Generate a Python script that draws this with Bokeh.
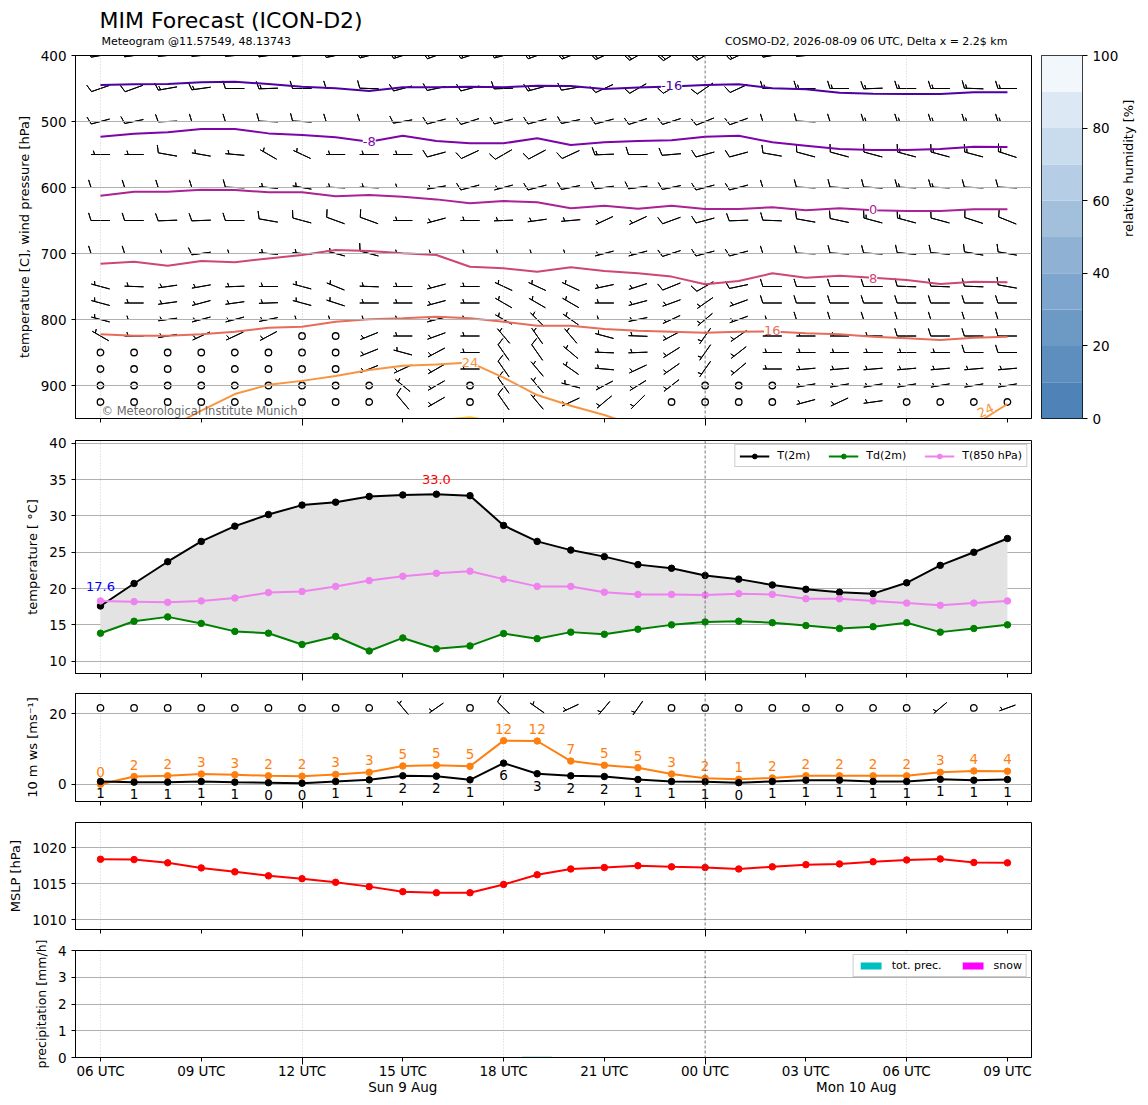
import math
from bokeh.plotting import figure
from bokeh.models import Range1d, FixedTicker, Span, Label, Legend, LegendItem, LinearAxis
from bokeh.layouts import column, row
from bokeh.embed import file_html
from bokeh.resources import INLINE
from bokeh.core.properties import value

FONT = "DejaVu Sans"
nan = float("nan")

# ------------------------------------------------------------------ data
hours = list(range(28))                      # 06 UTC 9 Aug ... 09 UTC 10 Aug
tick_hours = [0, 3, 6, 9, 12, 15, 18, 21, 24, 27]
tick_labels = ["06 UTC", "09 UTC", "12 UTC", "15 UTC", "18 UTC", "21 UTC",
               "00 UTC", "03 UTC", "06 UTC", "09 UTC"]
long_tick_hours = [6, 18]                    # 12 UTC and 00 UTC
vgrid_hours = [0, 6, 12, 24]
midnight_hour = 18
day_labels = ["Sun 9 Aug", "Mon 10 Aug"]
day_label_hours = [9, 22.5]

title_text = "MIM Forecast (ICON-D2)"
subtitle_left = "Meteogram @11.57549, 48.13743"
subtitle_right = "COSMO-D2, 2026-08-09 06 UTC, Delta x = 2.2$ km"
copyright_text = "\u00a9 Meteorological Institute Munich"

# upper-air wind (direction deg, speed in barb units) per pressure level
levels = [400, 450, 500, 550, 600, 650, 700, 750, 775, 800, 825, 850, 875, 900, 925]
wdir = {
    400: [260, 262, 265, 265, 265, 262, 262, 258, 255, 252, 250, 252, 255, 250, 248, 245, 240, 238, 240, 245, 260, 265, 270, 270, 270, 270, 270, 270],
    450: [251, 250, 260, 262, 270, 268, 270, 270, 272, 255, 258, 255, 268, 255, 260, 245, 240, 240, 235, 245, 270, 270, 270, 268, 270, 270, 272, 270],
    500: [255, 258, 268, 270, 270, 272, 273, 270, 270, 260, 255, 252, 255, 255, 258, 255, 252, 252, 248, 250, 270, 272, 270, 270, 270, 270, 270, 270],
    550: [270, 270, 280, 280, 275, 300, 295, 270, 270, 270, 255, 245, 240, 242, 245, 268, 270, 265, 255, 255, 280, 285, 285, 285, 285, 285, 285, 288],
    600: [270, 270, 270, 270, 272, 275, 280, 272, 272, 270, 260, 255, 255, 255, 258, 262, 262, 258, 255, 255, 270, 272, 273, 273, 272, 272, 272, 272],
    650: [270, 270, 268, 268, 270, 280, 285, 290, 290, 270, 255, 270, 268, 262, 265, 245, 245, 250, 255, 268, 272, 280, 282, 285, 285, 285, 288, 292],
    700: [270, 270, 270, 262, 270, 275, 275, 285, 285, 270, 270, 270, 270, 270, 270, 255, 255, 252, 255, 255, 270, 272, 273, 273, 275, 275, 280, 280],
    750: [285, 272, 262, 260, 268, 270, 285, 292, 272, 270, 255, 270, 295, 295, 295, 258, 252, 248, 240, 258, 270, 270, 270, 270, 272, 272, 272, 280],
    775: [285, 270, 262, 255, 262, 268, 285, 288, 270, 270, 255, 270, 300, 300, 300, 270, 255, 250, 235, 250, 270, 270, 270, 270, 270, 270, 270, 270],
    800: [285, 270, 262, 255, 255, 258, 270, 270, 270, 270, 255, 270, 300, 315, 305, 270, 258, 245, 230, 250, 270, 270, 270, 270, 270, 270, 270, 270],
    825: [300, 270, 260, 245, 245, 242, 0, 0, 248, 270, 250, 270, 320, 325, 320, 285, 272, 242, 215, 235, 270, 270, 270, 270, 270, 270, 270, 270],
    850: [0, 0, 0, 0, 0, 0, 0, 0, 248, 285, 242, 270, 325, 325, 310, 272, 268, 238, 215, 232, 270, 270, 270, 270, 270, 270, 270, 270],
    875: [0, 0, 0, 0, 0, 0, 0, 0, 248, 245, 240, 270, 325, 320, 305, 275, 245, 235, 215, 230, 270, 265, 265, 265, 265, 265, 265, 265],
    900: [0, 0, 0, 0, 0, 0, 0, 0, 0, 310, 240, 0, 325, 320, 285, 242, 238, 232, 0, 0, 0, 260, 260, 260, 260, 260, 260, 260],
    925: [0, 0, 0, 0, 0, 0, 0, 0, 0, 320, 240, 0, 325, 320, 245, 230, 225, 0, 0, 0, 0, 255, 245, 262, 0, 0, 0, 0],
}
wspd = {
    400: [15, 15, 15, 15, 15, 15, 15, 15, 15, 15, 15, 15, 15, 20, 20, 20, 20, 20, 20, 20, 15, 15, 15, 15, 15, 15, 15, 15],
    450: [10, 10, 15, 15, 10, 15, 10, 10, 10, 10, 10, 10, 10, 15, 10, 10, 10, 10, 10, 10, 15, 15, 15, 15, 15, 15, 15, 15],
    500: [10, 10, 10, 10, 10, 10, 10, 10, 10, 10, 10, 10, 10, 10, 10, 10, 10, 10, 10, 10, 10, 10, 10, 15, 15, 15, 15, 15],
    550: [5, 5, 10, 5, 5, 5, 5, 5, 5, 5, 10, 10, 10, 10, 10, 15, 10, 10, 10, 10, 10, 10, 10, 10, 15, 15, 15, 15],
    600: [10, 10, 10, 10, 10, 5, 5, 5, 5, 5, 5, 10, 5, 10, 10, 10, 10, 10, 10, 10, 10, 10, 10, 10, 15, 15, 10, 10],
    650: [10, 10, 10, 10, 10, 10, 10, 10, 10, 5, 5, 5, 5, 5, 5, 5, 5, 10, 10, 10, 10, 10, 10, 15, 15, 10, 10, 10],
    700: [10, 10, 5, 10, 5, 5, 5, 5, 10, 5, 5, 5, 5, 5, 5, 5, 5, 10, 10, 10, 10, 10, 10, 10, 10, 10, 10, 10],
    750: [5, 5, 5, 5, 5, 5, 5, 5, 5, 5, 5, 5, 5, 5, 5, 5, 5, 10, 10, 10, 10, 10, 10, 10, 10, 10, 10, 10],
    775: [5, 5, 5, 5, 5, 5, 5, 5, 5, 5, 5, 5, 5, 5, 5, 5, 5, 5, 5, 5, 10, 10, 10, 10, 10, 10, 10, 10],
    800: [5, 5, 5, 5, 5, 5, 5, 5, 5, 5, 5, 5, 5, 5, 5, 5, 5, 5, 5, 5, 5, 10, 10, 10, 10, 10, 10, 10],
    825: [5, 5, 5, 5, 5, 5, 0, 0, 5, 5, 5, 5, 5, 5, 5, 5, 5, 5, 5, 5, 5, 5, 5, 5, 10, 10, 10, 10],
    850: [0, 0, 0, 0, 0, 0, 0, 0, 5, 5, 5, 5, 10, 10, 5, 5, 5, 5, 5, 5, 5, 5, 5, 5, 5, 5, 10, 10],
    875: [0, 0, 0, 0, 0, 0, 0, 0, 5, 5, 5, 5, 10, 5, 5, 5, 5, 5, 5, 5, 5, 5, 5, 5, 5, 5, 5, 5],
    900: [0, 0, 0, 0, 0, 0, 0, 0, 0, 5, 5, 0, 10, 5, 5, 5, 5, 5, 0, 0, 0, 5, 5, 5, 5, 5, 5, 5],
    925: [0, 0, 0, 0, 0, 0, 0, 0, 0, 10, 5, 0, 10, 5, 5, 5, 5, 0, 0, 0, 0, 5, 5, 5, 0, 0, 0, 0],
}

# isotherms: pressure [hPa] of each temperature level per hour
iso_colors = ["#4c02a1", "#7e03a8", "#a92395", "#cc4778", "#e66c5c", "#f89540", "#fdc527"]
iso_m16 = [444.7, 443.7, 443.2, 440.7, 439.7, 443.2, 447.2, 449.7, 453.8, 448, 448, 447.5, 448, 445.7, 446.2, 450.7, 448.5, 447, 444.7, 443.7, 449.7, 451.2, 456.3, 457.8, 458.3, 458.3, 455.8, 455.8]
iso_m8 = [523, 518.5, 516.4, 511.4, 511.4, 518, 520.5, 524, 530.6, 521.5, 529.5, 533, 533, 525.5, 535.6, 531.5, 529.5, 528.5, 523, 521.5, 531.5, 536.6, 541.7, 543.2, 543.2, 541.7, 538.2, 538.6]
iso_0 = [612.4, 606.4, 606.4, 603.3, 603.8, 607.3, 607.3, 613.4, 611.4, 614, 618, 624, 620.5, 622.5, 631.6, 627.6, 632.1, 627.6, 632.6, 632.6, 630, 634.5, 631.6, 634.5, 635.6, 635.6, 633, 633]
iso_8 = [715.4, 712.4, 718.4, 711.4, 713.4, 707.4, 702.3, 694.7, 696.2, 699.7, 702.3, 720, 722.4, 727.5, 721, 726.5, 730, 735, 746.7, 741.7, 730, 736.6, 733.6, 736.6, 740.2, 746.2, 742.7, 743.7]
iso_16 = [822.5, 824.5, 824.5, 822.5, 818.5, 812.4, 811, 803.4, 799.7, 798.2, 795.7, 798.2, 803.4, 809.4, 809.4, 814.4, 817, 818.5, 820, 818.5, 818, 821, 822.5, 826, 828.5, 831, 827.6, 826]
iso_24 = [nan, nan, 965, 938, 913, 899, 893, 885.6, 876.5, 870, 868, 865, 888, 914.5, 930.6, 944.7, 962, nan, nan, nan, nan, nan, nan, nan, nan, nan, 960, 928]
iso_32 = [nan, nan, nan, nan, nan, nan, nan, nan, nan, nan, 953, 948, 957, nan, nan, nan, nan, nan, nan, nan, nan, nan, nan, nan, nan, nan, nan, nan]
iso_label_x = [17, 8, 23, 23, 20, 11, 26.35]
iso_label_p = [446, 530, 634, 738.5, 816.5, 864.5, 938]
iso_label_text = ["-16", "-8", "0", "8", "16", "24", "24"]
iso_label_color = ["#4c02a1", "#7e03a8", "#a92395", "#cc4778", "#e66c5c", "#f89540", "#f89540"]
iso_label_angle = [0, 0, 0, 0, 0, 0, 0.45]

# relative humidity colour bar
rh_levels = [0, 10, 20, 30, 40, 50, 60, 70, 80, 90, 100]
rh_colors = ["#4f83b8", "#5e8ebe", "#6d99c5", "#7ea5cd", "#8fb2d4", "#a2c0dc", "#b5cee5", "#c9dcee", "#dde8f5", "#f2f7fc"]
rh_ticks = [0, 20, 40, 60, 80, 100]

# surface temperatures
t2m = [17.6, 20.7, 23.7, 26.5, 28.6, 30.2, 31.5, 31.9, 32.7, 32.9, 33.0, 32.8, 28.7, 26.5, 25.3, 24.4, 23.3, 22.8, 21.8, 21.3, 20.5, 19.9, 19.5, 19.3, 20.8, 23.2, 25.0, 26.9]
td2m = [13.85, 15.5, 16.1, 15.2, 14.1, 13.85, 12.3, 13.4, 11.4, 13.2, 11.7, 12.1, 13.8, 13.1, 14.0, 13.7, 14.4, 15.0, 15.4, 15.5, 15.3, 14.9, 14.5, 14.75, 15.3, 14.0, 14.5, 15.0]
t850 = [18.3, 18.2, 18.1, 18.3, 18.7, 19.45, 19.6, 20.3, 21.1, 21.7, 22.1, 22.4, 21.3, 20.3, 20.3, 19.5, 19.2, 19.2, 19.1, 19.3, 19.2, 18.6, 18.6, 18.3, 18.0, 17.7, 18.0, 18.3]

# 10 m wind
ws10 = [0.8, 0.6, 0.6, 0.8, 0.6, 0.45, 0.3, 0.8, 1.25, 2.4, 2.3, 1.25, 6.0, 3.0, 2.4, 2.2, 1.35, 0.8, 0.7, 0.45, 0.8, 1.15, 1.15, 0.8, 0.8, 1.4, 1.15, 1.35]
gust10 = [0.0, 2.2, 2.4, 2.9, 2.7, 2.4, 2.3, 2.8, 3.4, 5.2, 5.4, 5.1, 12.4, 12.3, 6.6, 5.4, 4.7, 2.9, 1.7, 1.4, 1.8, 2.4, 2.4, 2.4, 2.4, 3.4, 3.8, 3.7]
wd10 = [0, 0, 0, 0, 0, 0, 0, 0, 0, 320, 235, 0, 315, 305, 245, 220, 215, 0, 0, 0, 0, 0, 0, 0, 0, 230, 0, 250]
barb10_height = 21.7
MS_TO_KT = 1.944

# mean sea level pressure
mslp = [1018.4, 1018.35, 1017.9, 1017.2, 1016.65, 1016.1, 1015.7, 1015.2, 1014.6, 1013.9, 1013.75, 1013.75, 1014.9, 1016.25, 1017.05, 1017.25, 1017.5, 1017.35, 1017.25, 1017.05, 1017.35, 1017.65, 1017.75, 1018.05, 1018.3, 1018.45, 1017.95, 1017.9]

# precipitation
precip = [0, 0, 0, 0, 0, 0, 0, 0, 0, 0, 0, 0, 0, 0.03, 0, 0, 0, 0, 0, 0, 0, 0, 0, 0, 0, 0, 0, 0]
snow = [0, 0, 0, 0, 0, 0, 0, 0, 0, 0, 0, 0, 0, 0, 0, 0, 0, 0, 0, 0, 0, 0, 0, 0, 0, 0, 0, 0]

# ------------------------------------------------------------------ layout constants
X0, X1 = -0.744, 27.716
FRAME_W = 956
LEFT = 75
x_range = Range1d(X0, X1)
PX_PER_H = FRAME_W / (X1 - X0)
AX_FS = "13px"
TICK_FS = "13.5px"


def barbs(xs, ys, dirs, spds, L, px_y, y_up_positive):
    """matplotlib-like wind barbs (pivot middle) -> polylines in data space"""
    spacing = 0.125 * L
    fh = 0.4 * L
    fw = 0.25 * L
    lx, ly, cx, cy = [], [], [], []
    for x0, y0, d, s in zip(xs, ys, dirs, spds):
        r = 5.0 * round(s / 5.0)
        nfull = int((r % 50) // 10)
        half = (r % 10) >= 5
        if nfull == 0 and not half:
            cx.append(x0)
            cy.append(y0)
            continue
        e = -L / 2.0
        verts = [(0.0, e)]
        off = L
        for _ in range(nfull):
            verts += [(0.0, e + off), (fh, e + off + fw / 2), (0.0, e + off)]
            off -= spacing
        if half:
            if off == L:
                verts.append((0.0, e + off))
                off -= 1.5 * spacing
            verts += [(0.0, e + off), (fh / 2, e + off + fw / 4), (0.0, e + off)]
        verts.append((0.0, e))
        dr = math.radians(d)
        u = -s * math.sin(dr)
        v = -s * math.cos(dr)
        th = math.atan2(v, u) + math.pi / 2
        c, sn = math.cos(th), math.sin(th)
        px, py = [], []
        for a, b in verts:
            X = a * c - b * sn
            Y = a * sn + b * c
            px.append(x0 + X / PX_PER_H)
            py.append(y0 + (Y / px_y if y_up_positive else -Y / px_y))
        lx.append(px)
        ly.append(py)
    return lx, ly, cx, cy


def bare_fig(fh, yr, right=10):
    p = figure(x_range=x_range, y_range=yr, frame_width=FRAME_W, frame_height=fh,
               min_border_left=LEFT, min_border_right=right, min_border_top=0,
               min_border_bottom=0, toolbar_location=None, tools="", output_backend="svg")
    p.axis.visible = False
    p.grid.visible = False
    p.outline_line_color = None
    p.background_fill_color = "white"
    p.border_fill_color = "white"
    return p


def style_axis(ax):
    ax.axis_line_color = "black"
    ax.major_tick_line_color = "black"
    ax.minor_tick_line_color = None
    ax.major_tick_out = 4
    ax.major_tick_in = 0
    ax.major_label_text_font = FONT
    ax.major_label_text_color = "black"
    ax.major_label_text_font_size = TICK_FS
    ax.axis_label_text_font = FONT
    ax.axis_label_text_font_style = "normal"
    ax.axis_label_text_color = "black"
    ax.axis_label_text_font_size = AX_FS
    ax.axis_label_standoff = 6


def make_fig(fh, yr, top, bottom, right=10, xlabels=False):
    p = figure(x_range=x_range, y_range=yr, frame_width=FRAME_W, frame_height=fh,
               min_border_left=LEFT, min_border_right=right, min_border_top=top,
               min_border_bottom=bottom, toolbar_location=None, tools="",
               output_backend="svg")
    p.background_fill_color = "white"
    p.border_fill_color = "white"
    p.outline_line_color = "black"
    p.outline_line_alpha = 1
    p.outline_line_width = 1
    for ax in p.axis:
        style_axis(ax)
    p.xaxis.ticker = FixedTicker(ticks=tick_hours, minor_ticks=long_tick_hours)
    p.xaxis.minor_tick_line_color = "black"
    p.xaxis.minor_tick_out = 7
    p.xaxis.minor_tick_in = 0
    if xlabels:
        p.xaxis.major_label_overrides = {h: t for h, t in zip(tick_hours, tick_labels)}
        p.xaxis.major_label_standoff = -2
    else:
        p.xaxis.major_label_overrides = {h: "" for h in tick_hours}
        p.xaxis.major_label_text_font_size = "0px"
        p.xaxis.major_label_standoff = 0
    p.ygrid.grid_line_color = "#b0b0b0"
    p.ygrid.grid_line_width = 1
    p.xgrid.ticker = FixedTicker(ticks=vgrid_hours)
    p.xgrid.grid_line_color = "#bbbbbb"
    p.xgrid.grid_line_width = 0.7
    p.xgrid.grid_line_dash = "1 2"
    p.add_layout(Span(location=midnight_hour, dimension="height", line_color="#555555",
                      line_width=0.8, line_dash="3 2"))
    return p


# ------------------------------------------------------------------ header
HDR_H = 47
hdr = bare_fig(HDR_H, Range1d(0, HDR_H), right=10)
hdr.text(x=[-0.03], y=[HDR_H - 20], text=[title_text], text_font=value(FONT),
         text_font_size="22px", text_color="black", text_baseline="middle")
hdr.text(x=[0.03], y=[HDR_H - 41], text=[subtitle_left], text_font=value(FONT),
         text_font_size="11px", text_color="black", text_baseline="middle")
hdr.text(x=[27], y=[HDR_H - 41], text=[subtitle_right], text_font=value(FONT),
         text_font_size="11px", text_color="black", text_baseline="middle", text_align="right")

# ------------------------------------------------------------------ panel 1 : upper air
P_TOP, P_BOT = 400, 950
H1 = 363
p1 = make_fig(H1, Range1d(P_BOT, P_TOP), top=8, bottom=10, right=10)
p1.yaxis.ticker = FixedTicker(ticks=[400, 500, 600, 700, 800, 900])
p1.yaxis.axis_label = "temperature [C], wind pressure [hPa]"
p1.ygrid.level = "glyph"
px_per_hpa = H1 / (P_BOT - P_TOP)

bx, by, bd, bs = [], [], [], []
for lev in levels:
    for h in hours:
        bx.append(h)
        by.append(lev)
        bd.append(wdir[lev][h])
        bs.append(wspd[lev][h])
lx, ly, cx, cy = barbs(bx, by, bd, bs, 19.0, px_per_hpa, False)
r = p1.multi_line(lx, ly, line_color="black", line_width=1)
r.level = "underlay"
r = p1.scatter(cx, cy, marker="circle", size=6.5, fill_color=None, line_color="black", line_width=1.3)
r.level = "underlay"

for iso, col in zip([iso_m16, iso_m8, iso_0, iso_8, iso_16, iso_24, iso_32], iso_colors):
    p1.line(hours, iso, line_color=col, line_width=2)

p1.text(x=iso_label_x, y=iso_label_p, text=iso_label_text, text_color=iso_label_color,
        angle=iso_label_angle, text_font=value(FONT), text_font_size="13px",
        text_align="center", text_baseline="middle", background_fill_color="white")

p1.add_layout(Label(x=26, y=8, x_units="screen", y_units="screen",
                    text=copyright_text, text_font=FONT,
                    text_font_size="11.5px", text_color="#555555", text_alpha=0.9,
                    text_baseline="middle"))

# colour bar
cb = figure(x_range=Range1d(0, 1), y_range=Range1d(0, 100), frame_width=41, frame_height=H1,
            min_border_left=0, min_border_right=60, min_border_top=HDR_H + 8,
            min_border_bottom=10, y_axis_location="right", toolbar_location=None, tools="",
            output_backend="svg")
cb.quad(left=0, right=1, bottom=rh_levels[:-1], top=rh_levels[1:], fill_color=rh_colors,
        line_color=None)
cb.xaxis.visible = False
cb.grid.visible = False
cb.outline_line_color = "black"
cb.outline_line_alpha = 1
style_axis(cb.yaxis[0])
cb.yaxis.ticker = FixedTicker(ticks=rh_ticks)
cb.yaxis.axis_label = "relative humidity [%]"
cb.yaxis.axis_label_orientation = math.pi / 2
cb.yaxis.axis_line_color = None
cb.yaxis.major_tick_out = 5
cb.yaxis.major_label_standoff = 5
cb.yaxis.axis_label_standoff = 7

# ------------------------------------------------------------------ panel 2 : temperature
p2 = make_fig(233, Range1d(8.3, 40.4), top=12, bottom=8)
p2.yaxis.ticker = FixedTicker(ticks=[10, 15, 20, 25, 30, 35, 40])
p2.yaxis.axis_label = "temperature [ \u00b0C]"
p2.varea(x=hours, y1=td2m, y2=t2m, fill_color="#e3e3e3")
lt = p2.line(hours, t2m, line_color="black", line_width=2)
st = p2.scatter(hours, t2m, size=6.5, color="black")
ld = p2.line(hours, td2m, line_color="green", line_width=2)
sd = p2.scatter(hours, td2m, size=6.5, color="green")
l8 = p2.line(hours, t850, line_color="violet", line_width=2)
s8 = p2.scatter(hours, t850, size=6.5, color="violet")
i_min = t2m.index(min(t2m))
i_max = t2m.index(max(t2m))
p2.text(x=[hours[i_min]], y=[t2m[i_min]], text=["%.1f" % t2m[i_min]], text_color="blue",
        y_offset=-19, text_font=value(FONT), text_font_size="13px", text_align="center",
        text_baseline="middle")
p2.text(x=[hours[i_max]], y=[t2m[i_max]], text=["%.1f" % t2m[i_max]], text_color="red",
        y_offset=-15, text_font=value(FONT), text_font_size="13px", text_align="center",
        text_baseline="middle")
leg2 = Legend(items=[LegendItem(label="T(2m)", renderers=[lt, st]),
                     LegendItem(label="Td(2m)", renderers=[ld, sd]),
                     LegendItem(label="T(850 hPa)", renderers=[l8, s8])],
              orientation="horizontal", location="top_right")
p2.add_layout(leg2)

# ------------------------------------------------------------------ panel 3 : 10 m wind
W_LO, W_HI = -4.9, 25.8
H3 = 108
p3 = make_fig(H3, Range1d(W_LO, W_HI), top=12, bottom=8)
p3.yaxis.ticker = FixedTicker(ticks=[0, 20])
p3.yaxis.axis_label = "10 m ws [ms\u207b\u00b9]"
p3.line(hours, gust10, line_color="#ff7f0e", line_width=2)
p3.scatter(hours, gust10, size=6.5, color="#ff7f0e")
p3.line(hours, ws10, line_color="black", line_width=2)
p3.scatter(hours, ws10, size=6.5, color="black")
p3.text(x=hours, y=gust10, text=[str(round(g)) for g in gust10], text_color="#ff7f0e",
        y_offset=-12, text_font=value(FONT), text_font_size="13.5px", text_align="center",
        text_baseline="middle")
p3.text(x=hours, y=ws10, text=[str(round(w)) for w in ws10], text_color="black",
        y_offset=12, text_font=value(FONT), text_font_size="13.5px", text_align="center",
        text_baseline="middle")
lx, ly, cx, cy = barbs(hours, [barb10_height] * len(hours), wd10,
                       [w * MS_TO_KT for w in ws10], 17.0, H3 / (W_HI - W_LO), True)
p3.multi_line(lx, ly, line_color="black", line_width=1)
p3.scatter(cx, cy, marker="circle", size=6.5, fill_color=None, line_color="black", line_width=1.3)

# ------------------------------------------------------------------ panel 4 : MSLP
p4 = make_fig(107, Range1d(1008.65, 1023.5), top=13, bottom=8)
p4.yaxis.ticker = FixedTicker(ticks=[1010, 1015, 1020])
p4.yaxis.axis_label = "MSLP [hPa]"
p4.line(hours, mslp, line_color="red", line_width=2)
p4.scatter(hours, mslp, size=6.5, color="red")

# ------------------------------------------------------------------ panel 5 : precipitation
p5 = make_fig(107, Range1d(0, 4), top=13, bottom=5, xlabels=True)
p5.yaxis.ticker = FixedTicker(ticks=[0, 1, 2, 3, 4])
p5.yaxis.axis_label = "precipitation [mm/h]"
p5.yaxis.axis_label_text_font_size = "12.5px"
rp = p5.vbar(x=hours, top=precip, width=0.9, fill_color="#00bfbf", line_color=None)
rs = p5.vbar(x=hours, top=snow, width=0.9, fill_color="#ff00ff", line_color=None)
leg5 = Legend(items=[LegendItem(label="tot. prec.", renderers=[rp]),
                     LegendItem(label="snow", renderers=[rs])],
              orientation="horizontal", location="top_right")
p5.add_layout(leg5)

# second axis below carrying the day names
day_axis = LinearAxis(ticker=FixedTicker(ticks=day_label_hours),
                      major_label_overrides={h: d for h, d in zip(day_label_hours, day_labels)})
style_axis(day_axis)
day_axis.axis_line_color = None
day_axis.major_tick_line_color = None
day_axis.major_tick_out = 0
day_axis.major_label_standoff = -3
p5.add_layout(day_axis, "below")

for lg in (leg2, leg5):
    lg.label_text_font = FONT
    lg.label_text_font_size = "11px"
    lg.label_text_color = "black"
    lg.border_line_color = "#cccccc"
    lg.border_line_alpha = 1
    lg.background_fill_alpha = 0.85
    lg.padding = 4
    lg.margin = 4
    lg.spacing = 18
    lg.glyph_width = 30
    lg.glyph_height = 12
    lg.label_height = 12
    lg.label_standoff = 8
leg5.glyph_height = 9
leg5.glyph_width = 26

layout = column(row(column(hdr, p1), cb), p2, p3, p4, p5)
open("out.html", "w").write(file_html(layout, INLINE))
